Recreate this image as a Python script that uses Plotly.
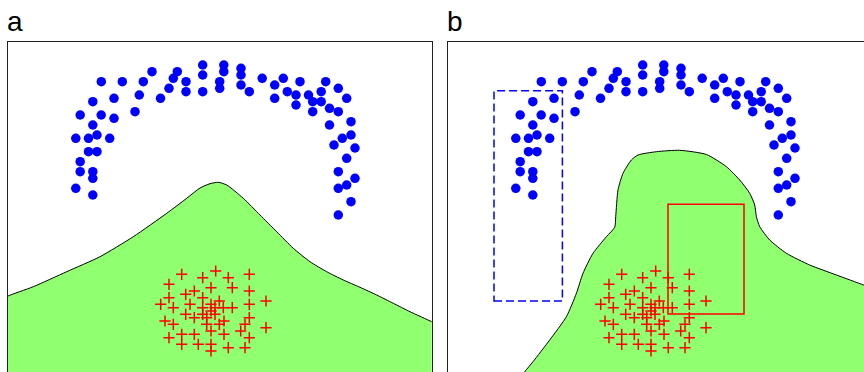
import plotly.graph_objects as go

# ---- data (chart units: x from panel left edge, y from page bottom) ----
blue_x = [93.3, 114.3, 135.3, 144, 169.3, 165.3, 178, 161, 178, 152.5, 131.3, 127,
          194.7, 194.7, 194.7, 215.8, 215.8, 211.7, 211.7, 233, 233, 233, 241.3, 254.2,
          266.7, 266.7, 275.3, 279.3, 288, 288, 292, 300.5, 304.7, 304.7, 313.2, 313.2,
          317.7, 321.5, 330.3, 330.3, 338.7, 321.5, 343, 343, 334.3, 326, 347, 338.7,
          330.3, 347, 338.7, 330.3, 343, 330.3,
          84.8, 106, 72.2, 93.2, 106, 84.8, 67.8, 80.5, 89, 101.7, 80.5, 89, 72.2, 72.2,
          84.8, 84.8, 67.8, 84.8]
blue_y = [290.3, 290.3, 290.3, 300.3, 300.3, 293.7, 290.3, 283.7, 280.3, 273.7, 277, 260.3,
          307, 297, 280.3, 307, 300.3, 290.3, 283.7, 303.7, 297, 287, 280.3, 293.7,
          287, 273.7, 293.7, 280.3, 277, 267, 290.3, 277, 270.3, 260.3, 280.3, 270.3,
          290.3, 263.7, 283.7, 260.3, 273.7, 247, 250.3, 237, 233.7, 227, 224, 213.7,
          200.3, 193.7, 187, 183.7, 170.3, 157,
          270.3, 273.7, 257, 257, 253.7, 247, 233.7, 233.7, 237, 233.7, 220.3, 220.3, 210.3, 200.3,
          200.3, 193.7, 183.7, 177]

red_x = [173.7, 194.7, 207.7, 220.3, 241.3, 161, 203, 224.3, 241.3, 177.7, 186.3, 161, 194.7,
         152.7, 165.3, 182, 203, 211.3, 194.7, 207, 215.3, 224.3, 241.3, 258, 203, 177.7,
         194.7, 207, 186.3, 198.7, 241.3, 157, 165.3, 198.7, 211.3, 216, 237, 203, 232.7,
         258, 173.7, 186.3, 216, 161, 241.3, 173.7, 190.3, 203, 203, 220.3, 237]
red_y = [97.7, 94.3, 101, 94.3, 97.7, 87.7, 84.3, 84.3, 81, 77.7, 81, 74.3, 74.3,
         67.7, 64.3, 67.7, 67.7, 71, 64.3, 64.3, 64.3, 64.3, 67.7, 71, 61, 57.7,
         57.7, 57.7, 54.3, 54.3, 54.3, 51, 47.7, 47.7, 47.7, 51, 47.7, 41, 41,
         44.3, 37.7, 37.7, 37.7, 34.3, 34.3, 27.7, 27.7, 27.7, 21, 24.3, 24.3]

# decision region boundary, panel a
bound_a_x = [-5, 0, 25.3, 58.7, 92, 125.3, 158.7, 178.7, 192, 202, 210.3, 218.7, 235.3, 252,
             268.7, 285.3, 302, 318.7, 335.3, 352, 368.7, 385.3, 402, 423.7, 430, 430, -5]
bound_a_y = [73, 76, 85.3, 100.3, 115.3, 135.3, 158.7, 173.7, 184, 188.3, 189.7, 187, 173.7, 157,
             140.3, 123.7, 110.3, 100.3, 92, 84.7, 77, 68.7, 60.3, 50.3, 47, -10, -10]

# decision region boundary, panel b
bound_b_x = [70, 76.7, 85, 101.7, 118.4, 128.4, 135, 145, 158.4, 166.7, 167.7, 170, 175, 183.4,
             190, 208.4, 231.7, 258.4, 278.4, 291.7, 301.7, 306.7, 308.4, 311.7, 321.7, 338.4,
             361.7, 388.4, 415.7, 430, 430, 70]
bound_b_y = [-8, 0.3, 10.3, 32, 55.3, 78.7, 98.7, 118.7, 135.3, 144.7, 155.3, 182, 198.7, 212,
             217, 220.3, 221.7, 217.5, 205.3, 192, 178.7, 167, 155.3, 145.3, 132, 118.7,
             107, 97, 87, 82, -10, -10]

dashed_rect = [46, 71, 114.4, 281.3]   # x0, y0, x1, y1
red_rect = [220, 58, 296, 167.7]

panel_labels = ["a", "b"]

GREEN = "rgb(144,255,112)"

fig = go.Figure()
for ax, bx, by in [("", bound_a_x, bound_a_y), ("2", bound_b_x, bound_b_y)]:
    fig.add_trace(go.Scatter(x=bx, y=by, xaxis="x" + ax, yaxis="y" + ax, mode="lines",
                             fill="toself", fillcolor=GREEN,
                             line=dict(color="black", width=1, shape="spline", smoothing=0.6),
                             hoverinfo="skip"))
    fig.add_trace(go.Scatter(x=blue_x, y=blue_y, xaxis="x" + ax, yaxis="y" + ax, mode="markers",
                             marker=dict(color="#0000ff", size=9.5, line=dict(width=0))))
    fig.add_trace(go.Scatter(x=red_x, y=red_y, xaxis="x" + ax, yaxis="y" + ax, mode="markers",
                             marker=dict(symbol="cross-thin", size=8, color="#ff0000",
                                         line=dict(color="#ff0000", width=1.5))))

fig.add_shape(type="rect", xref="x2", yref="y2", x0=dashed_rect[0], y0=dashed_rect[1],
              x1=dashed_rect[2], y1=dashed_rect[3],
              line=dict(color="#0000ff", width=1.5, dash="8px,4px"))
fig.add_shape(type="rect", xref="x2", yref="y2", x0=red_rect[0], y0=red_rect[1],
              x1=red_rect[2], y1=red_rect[3], line=dict(color="#ff0000", width=1.5))

W, H = 864, 372
ytop = (372 - 42) / 372
axcommon = dict(showgrid=False, zeroline=False, showticklabels=False, ticks="")
fig.update_layout(
    width=W, height=H, margin=dict(l=0, r=0, t=0, b=0),
    paper_bgcolor="white", plot_bgcolor="white", showlegend=False,
    xaxis=dict(domain=[8 / W, 431.7 / W], range=[0, 423.7], side="top",
               showline=True, linecolor="#222", linewidth=1.2, **axcommon),
    yaxis=dict(domain=[0, ytop], range=[0, 330], showline=True, mirror=True,
               linecolor="#222", linewidth=1.2, **axcommon),
    xaxis2=dict(domain=[448 / W, 1], range=[0, 416], side="top", anchor="y2",
                showline=True, linecolor="#222", linewidth=1.2, **axcommon),
    yaxis2=dict(domain=[0, ytop], range=[0, 330], anchor="x2", showline=True,
                linecolor="#222", linewidth=1.2, **axcommon),
)
for lab, xp in zip(panel_labels, [5 / W, 445 / W]):
    fig.add_annotation(text=lab, xref="paper", yref="paper", x=xp, y=1 - 22 / H,
                       xanchor="left", yanchor="middle", showarrow=False,
                       font=dict(family="Liberation Sans, Arial", size=28, color="black"))

fig.write_html("out.html", config={"displayModeBar": False})

# remove the browser's default page margin so the figure sits at the window origin
with open("out.html", encoding="utf-8") as f:
    html = f.read()
html = html.replace("<head>", "<head><style>html,body{margin:0;padding:0;overflow:hidden;}</style>", 1)
with open("out.html", "w", encoding="utf-8") as f:
    f.write(html)
